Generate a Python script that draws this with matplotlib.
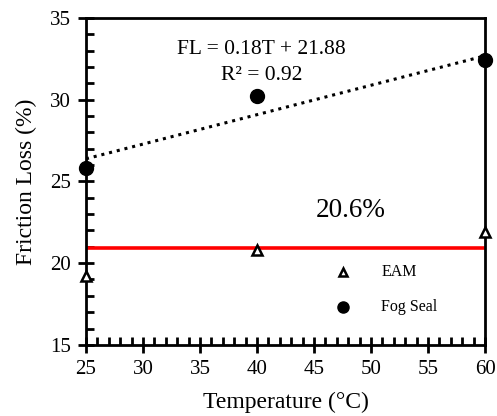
import matplotlib.pyplot as plt
from matplotlib.ticker import MultipleLocator

plt.rcParams['font.family'] = ['Liberation Serif', 'DejaVu Serif']

temps = [25, 40, 60]
eam = [19.2, 20.8, 21.9]
fog_seal = [25.8, 30.2, 32.4]
eam_level = 20.9
fit_slope, fit_icpt = 0.18, 21.88
fit_x = [25, 60]

fig = plt.figure(figsize=(4.97, 4.16), dpi=100)
ax = fig.add_axes([0.173, 0.171, 0.803, 0.786])

ax.plot(fit_x, [fit_slope * t + fit_icpt for t in fit_x], color='black',
        linestyle=(0, (1, 1.6)), linewidth=2.2, zorder=2)
ax.plot([25, 59.8], [eam_level, eam_level], color='#ff0000', linewidth=2.6, zorder=2)
ax.plot(temps, eam, linestyle='none', marker='^', markersize=7, markerfacecolor='white',
        markeredgecolor='black', markeredgewidth=1.8, clip_on=False, zorder=3)
ax.plot(temps, fog_seal, linestyle='none', marker='o', markersize=10, color='black',
        clip_on=False, zorder=3)

ax.text(40.4, 33.05, 'FL = 0.18T + 21.88', ha='center', va='center', fontsize=15.5)
ax.text(40.4, 31.5, 'R² = 0.92', ha='center', va='center', fontsize=15.5)
ax.text(48.2, 23.2, '20.6%', ha='center', va='center', fontsize=19.5)

# legend drawn by hand like the original
ax.plot([47.5], [19.47], marker='^', markersize=6, markerfacecolor='white',
        markeredgecolor='black', markeredgewidth=1.8, linestyle='none')
ax.text(50.9, 19.47, 'EAM', ha='left', va='center', fontsize=11.5)
ax.plot([47.5], [17.3], marker='o', markersize=8, color='black', linestyle='none')
ax.text(50.9, 17.3, 'Fog Seal', ha='left', va='center', fontsize=11.5)

ax.set_xlim(25, 60)
ax.set_ylim(15, 35)
ax.xaxis.set_major_locator(MultipleLocator(5))
ax.xaxis.set_minor_locator(MultipleLocator(1))
ax.yaxis.set_major_locator(MultipleLocator(5))
ax.yaxis.set_minor_locator(MultipleLocator(1))
ax.tick_params(which='major', direction='inout', length=12, width=2, labelsize=15, pad=5)
ax.tick_params(which='minor', direction='in', length=6, width=2)
for s in ax.spines.values():
    s.set_linewidth(2)

ax.set_xlabel('Temperature (°C)', fontsize=17, labelpad=9)
ax.set_ylabel('Friction Loss (%)', fontsize=17, labelpad=9)

fig.savefig('out.png', dpi=100)
